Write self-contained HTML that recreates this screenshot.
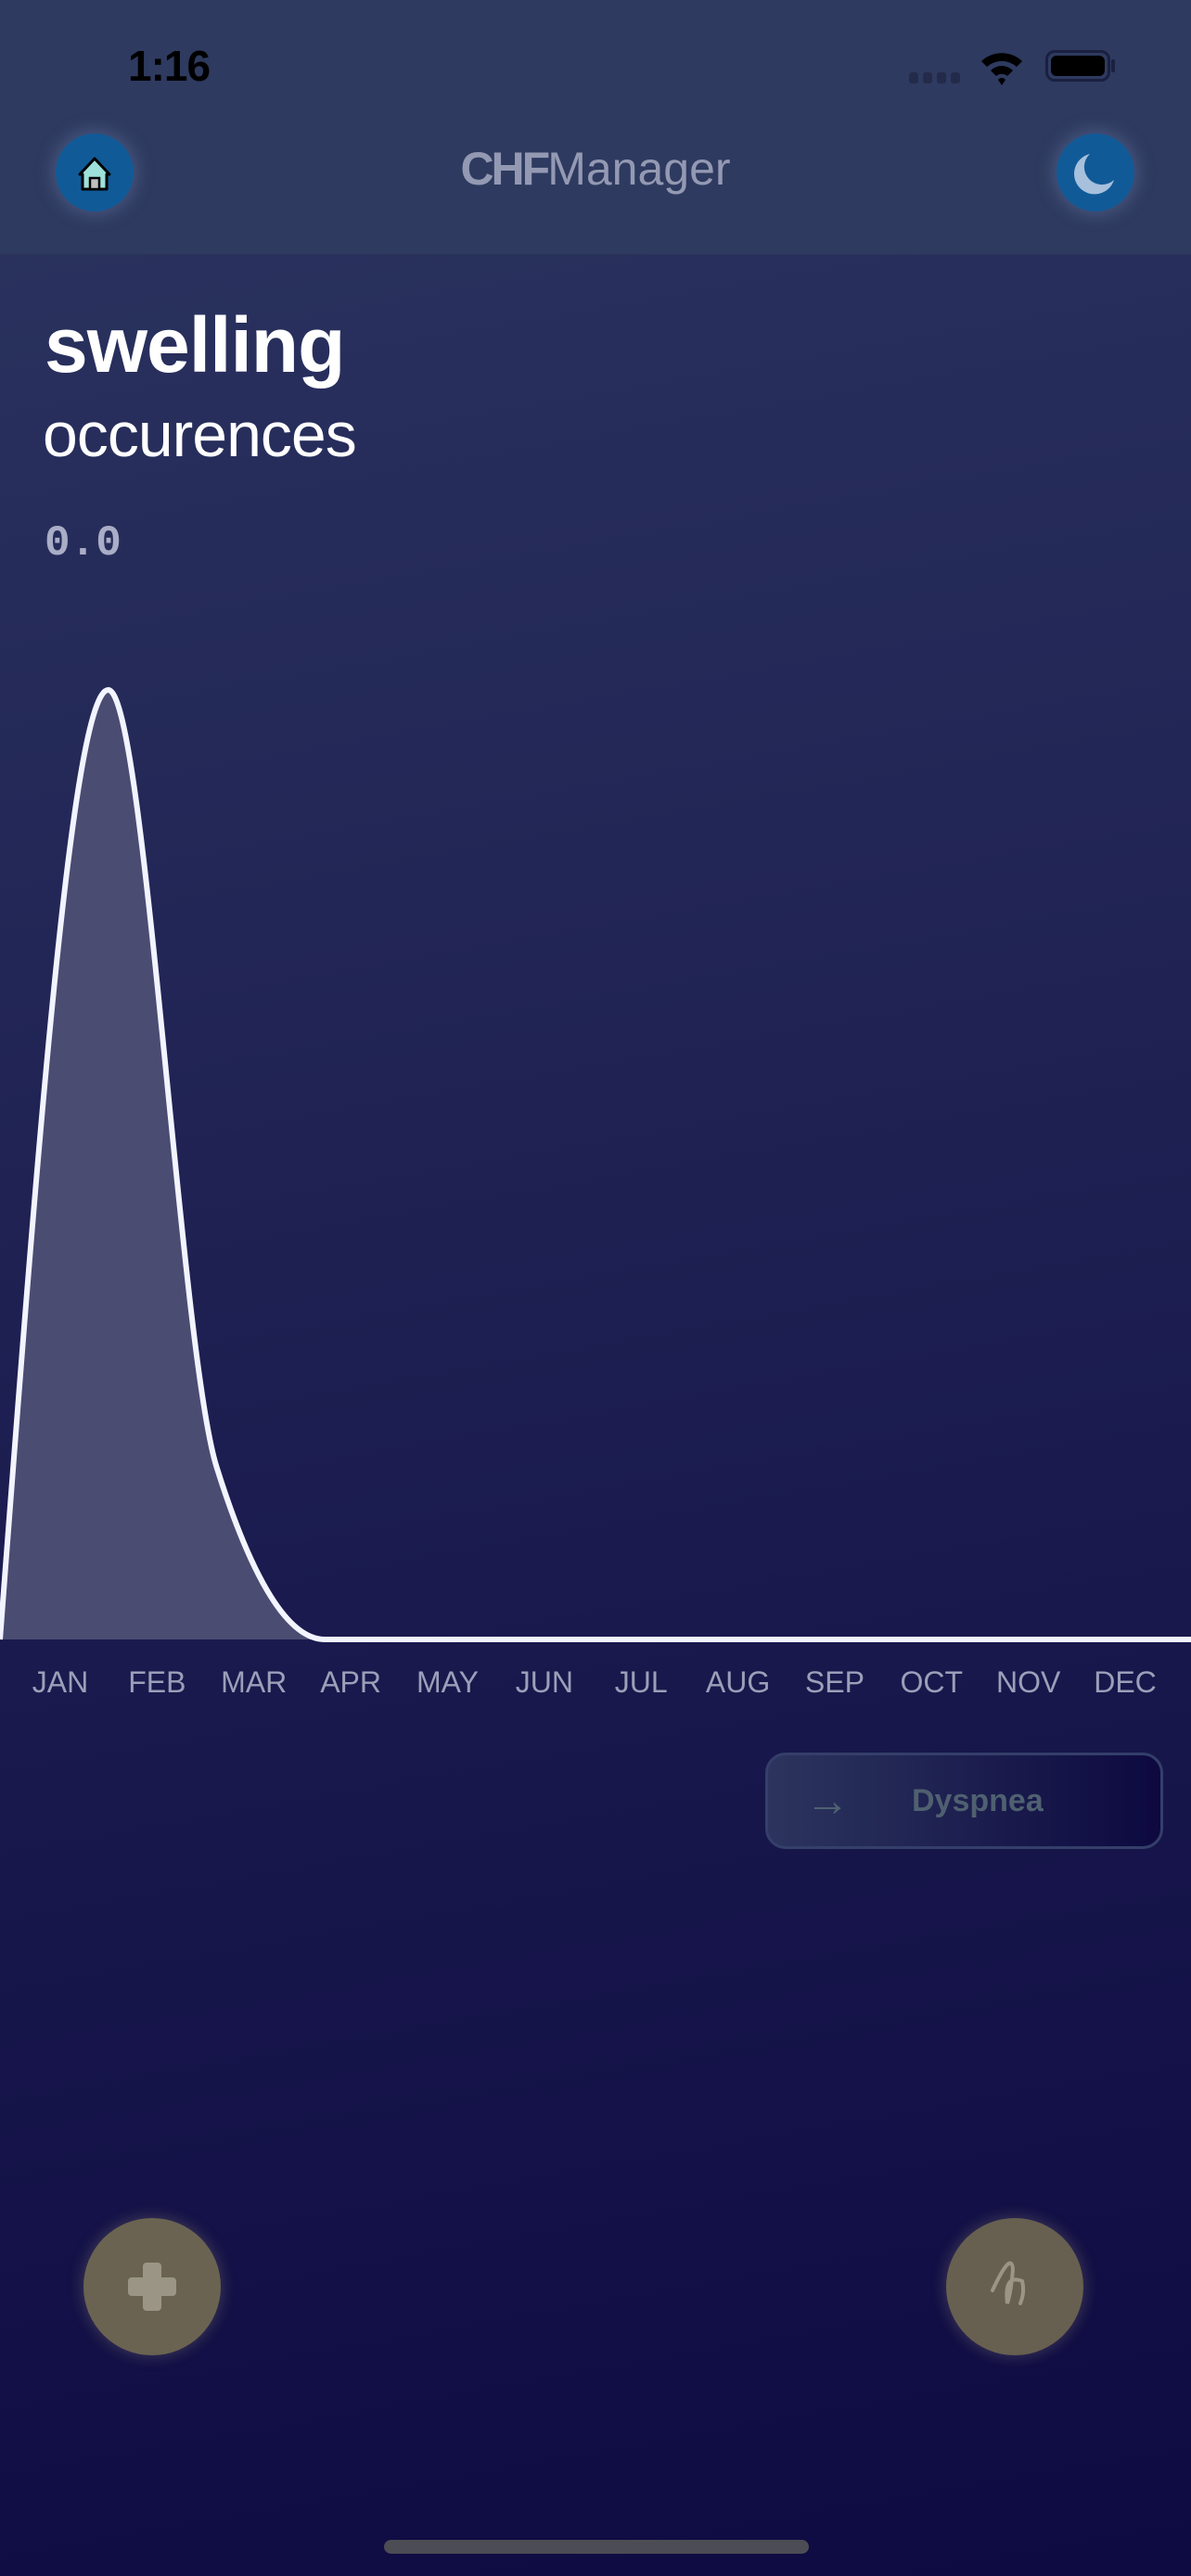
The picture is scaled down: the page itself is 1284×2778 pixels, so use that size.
<!DOCTYPE html>
<html><head><meta charset="utf-8">
<style>
html,body{margin:0;padding:0;}
body{width:1284px;height:2778px;position:relative;overflow:hidden;font-family:"Liberation Sans",sans-serif;
background:linear-gradient(170deg,#2c3560 0%,#222656 35%,#1a1a4e 60%,#0e0a42 100%);}
.abs{position:absolute;}
</style></head><body>
<div class="abs" style="left:0;top:0;width:1284px;height:274px;background:#2e3a5f;border-bottom:1px solid #2a3358"></div>
<div class="abs" style="left:138px;top:44px;font-size:46px;font-weight:bold;color:#000;letter-spacing:-1px">1:16</div>
<div class="abs" style="left:980px;top:78px;width:58px;height:12px">
<span style="position:absolute;left:0;width:10px;height:12px;background:#242b4a;border-radius:3px"></span>
<span style="position:absolute;left:15px;width:10px;height:12px;background:#242b4a;border-radius:3px"></span>
<span style="position:absolute;left:30px;width:10px;height:12px;background:#242b4a;border-radius:3px"></span>
<span style="position:absolute;left:45px;width:10px;height:12px;background:#242b4a;border-radius:3px"></span></div>
<svg class="abs" style="left:1055px;top:52px" width="50" height="40" viewBox="0 0 50 40"><path d="M3 14 A32 32 0 0 1 47 14 L41 20 A24 24 0 0 0 9 20Z M13 24 A17 17 0 0 1 37 24 L31 30 A9 9 0 0 0 19 30Z M25 40 L21 34 A5 5 0 0 1 29 34Z" fill="#000"/></svg>
<div class="abs" style="left:1127px;top:54px;width:70px;height:34px;border:3px solid #1a2040;border-radius:10px;box-sizing:border-box;padding:3px"><div style="width:100%;height:100%;background:#000;border-radius:6px"></div></div>
<div class="abs" style="left:1198px;top:64px;width:4px;height:14px;background:#1a2040;border-radius:2px"></div>

<div class="abs" style="left:60px;top:144px;width:84px;height:84px;border-radius:50%;background:#115a98;box-shadow:0 0 18px 4px rgba(120,140,190,.35)">
<svg width="84" height="84" viewBox="0 0 84 84"><path d="M26 44 L42 27 L58 44 L55 44 L55 60 L29 60 L29 44Z" fill="#9ee0da" stroke="#000" stroke-width="3" stroke-linejoin="round"/><rect x="37" y="48" width="10" height="12" fill="#c0c0c0" stroke="#000" stroke-width="2.5"/></svg></div>
<div class="abs" style="left:0;width:1284px;top:153px;text-align:center;font-size:50px;color:#9499b3"><span style="font-weight:bold;letter-spacing:-3px">CHF</span><span style="font-weight:300">Manager</span></div>
<div class="abs" style="left:1139px;top:144px;width:84px;height:84px;border-radius:50%;background:#115a98;box-shadow:0 0 18px 4px rgba(120,140,190,.35)">
<svg width="84" height="84" viewBox="0 0 84 84"><path d="M36 22 A22 22 0 1 0 62 50 A18 18 0 0 1 36 22Z" fill="#a7c0dc"/></svg></div>

<div class="abs" style="left:48px;top:324px;font-size:84px;font-weight:bold;color:#fff;letter-spacing:-1px">swelling</div>
<div class="abs" style="left:46px;top:430px;font-size:68px;font-weight:300;color:#fff;letter-spacing:-1px">occurences</div>
<div class="abs" style="left:48px;top:560px;font-size:46px;font-weight:bold;color:#a9adc6;font-family:'Liberation Mono',monospace">0.0</div>

<svg class="abs" id="chart" style="left:0;top:0" width="1284" height="1850"></svg>

<div class="abs" style="left:825px;top:1890px;width:429px;height:104px;box-sizing:border-box;border:3px solid #343f6a;border-radius:22px;background:linear-gradient(90deg,#2c355e,#0d0940)">
<div class="abs" style="left:40px;top:22px;font-size:48px;color:#4f6070">→</div>
<div class="abs" style="left:155px;top:30px;font-size:34px;font-weight:bold;color:#4f6070">Dyspnea</div></div>

<div class="abs" style="left:90px;top:2392px;width:148px;height:148px;border-radius:50%;background:#6a6351;box-shadow:0 0 14px 3px rgba(140,130,110,.3)">
<div class="abs" style="left:64px;top:48px;width:20px;height:52px;background:#9a9585;border-radius:4px"></div>
<div class="abs" style="left:48px;top:64px;width:52px;height:20px;background:#9a9585;border-radius:4px"></div></div>
<div class="abs" style="left:1020px;top:2392px;width:148px;height:148px;border-radius:50%;background:#676050;box-shadow:0 0 14px 3px rgba(140,130,110,.3)">
<svg width="148" height="148" viewBox="0 0 148 148"><path d="M50 78 Q70 35 72 55 Q70 80 66 92 Q62 60 82 68 Q85 80 80 92" fill="none" stroke="#9a9585" stroke-width="4" stroke-linecap="round"/></svg></div>
<div class="abs" style="left:414px;top:2739px;width:458px;height:15px;border-radius:8px;background:#4c4c55"></div>

<script>
const months=["JAN","FEB","MAR","APR","MAY","JUN","JUL","AUG","SEP","OCT","NOV","DEC"];
const occurrences=[0,11,2,0,0,0,0,0,0,0,0,0];
const yMax=11;
const svg=document.getElementById('chart');
const NS="http://www.w3.org/2000/svg";
const baseY=1768, topY=744;
function xData(i){return i*1284/(occurrences.length-1);}
function y(v){return baseY-(v/yMax)*(baseY-topY);}
function xLabel(i){return 65+i*(1213-65)/(months.length-1);}
const P=occurrences.map((v,i)=>[xData(i),y(v)]);
const n=P.length;
function sgn(v){return v<0?-1:1;}
const t=new Array(n).fill(0);
for(let i=1;i<n-1;i++){
 const h0=P[i][0]-P[i-1][0],h1=P[i+1][0]-P[i][0];
 const s0=(P[i][1]-P[i-1][1])/h0,s1=(P[i+1][1]-P[i][1])/h1;
 const p=(s0*h1+s1*h0)/(h0+h1);
 t[i]=(sgn(s0)+sgn(s1))*Math.min(Math.abs(s0),Math.abs(s1),0.5*Math.abs(p))||0;
}
{const h=P[1][0]-P[0][0];t[0]=(3*(P[1][1]-P[0][1])/h-t[1])/2;}
{const h=P[n-1][0]-P[n-2][0];t[n-1]=(3*(P[n-1][1]-P[n-2][1])/h-t[n-2])/2;}
let path="M"+P[0][0]+","+P[0][1];
for(let i=0;i<n-1;i++){const dx=(P[i+1][0]-P[i][0])/3;
 path+=` C${P[i][0]+dx},${P[i][1]+dx*t[i]} ${P[i+1][0]-dx},${P[i+1][1]-dx*t[i+1]} ${P[i+1][0]},${P[i+1][1]}`;}
const area=document.createElementNS(NS,'path');
area.setAttribute('d',path+` L1284,${baseY} L0,${baseY}Z`);
area.setAttribute('fill','#4a4c72');


svg.appendChild(area);
const line=document.createElementNS(NS,'path');
line.setAttribute('d',path);
line.setAttribute('fill','none');line.setAttribute('stroke','#f2f4ff');line.setAttribute('stroke-width','6');


svg.appendChild(line);
months.forEach((mo,i)=>{
 const tx=document.createElementNS(NS,'text');
 tx.setAttribute('x',xLabel(i));tx.setAttribute('y',1825);
 tx.setAttribute('text-anchor','middle');tx.setAttribute('fill','#9aa0b8');
 tx.setAttribute('font-size','32');tx.setAttribute('font-family','Liberation Sans, sans-serif');
 tx.textContent=mo;
 
 
 svg.appendChild(tx);
});
</script>
</body></html>
